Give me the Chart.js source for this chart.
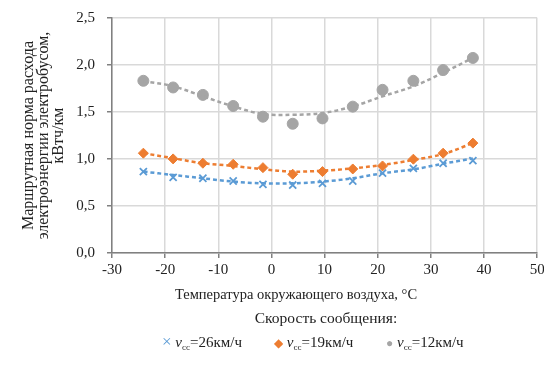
<!DOCTYPE html>
<html><head><meta charset="utf-8">
<script src="https://cdn.jsdelivr.net/npm/chart.js@4/dist/chart.umd.min.js"></script>
<style>
html,body{margin:0;padding:0;background:#fff;}
#wrap{position:relative;width:544px;height:365px;font-family:"Liberation Serif","Times New Roman",serif;color:#222;}
#c{position:absolute;left:0;top:0;}
.lt{position:absolute;font-size:15px;white-space:nowrap;line-height:18px;}
.lt sub{font-size:9px;vertical-align:-3px;}
.ctr{text-align:center;width:300px;}
</style></head>
<body><div id="wrap"><canvas id="c" width="544" height="365"></canvas>
<div class="lt ctr" id="xTitle" style="left:146px;top:285px;font-size:14.5px;"></div>
<div class="lt ctr" id="legTitle" style="left:176px;top:309px;font-size:15.5px;"></div>
<div class="lt" style="left:162px;top:333px;"><span style="color:#5B9BD5;font-size:17px">×</span> <i>v</i><sub>сс</sub>=26км/ч</div>
<div class="lt" style="left:274px;top:333px;"><span style="color:#ED7D31;font-size:12px">◆</span> <i>v</i><sub>сс</sub>=19км/ч</div>
<div class="lt" style="left:386px;top:333px;"><span style="color:#A5A5A5;font-size:12px">●</span> <i>v</i><sub>сс</sub>=12км/ч</div>
</div>
<script>
const temps = [-24.1, -18.5, -12.9, -7.2, -1.6, 4.0, 9.6, 15.3, 20.9, 26.7, 32.3, 37.9];
const v26 = [0.866, 0.805, 0.795, 0.766, 0.73, 0.723, 0.741, 0.766, 0.85, 0.90, 0.955, 0.983];
const v19 = [1.062, 1.001, 0.955, 0.944, 0.908, 0.838, 0.866, 0.894, 0.926, 0.998, 1.062, 1.169];
const v12 = [1.832, 1.761, 1.682, 1.564, 1.45, 1.375, 1.432, 1.557, 1.736, 1.832, 1.946, 2.075];
const trend26 = [0.866, 0.83, 0.795, 0.76, 0.741, 0.741, 0.759, 0.795, 0.848, 0.89, 0.95, 1.005];
const trend19 = [1.062, 1.008, 0.955, 0.926, 0.891, 0.866, 0.876, 0.90, 0.937, 0.99, 1.054, 1.169];
const trend12 = [1.83, 1.773, 1.667, 1.56, 1.479, 1.471, 1.489, 1.56, 1.667, 1.773, 1.917, 2.077];
const seriesNames = ['vсс=26км/ч', 'vсс=19км/ч', 'vсс=12км/ч'];
const xTitle = 'Температура окружающего воздуха, °С';
const yTitle = ['Маршрутная норма расхода', 'электроэнергии электробусом,', 'кВтч/км'];
const legendTitle = 'Скорость сообщения:';

document.getElementById('xTitle').textContent = xTitle;
document.getElementById('legTitle').textContent = legendTitle;

const pts = (ys) => temps.map((x, i) => ({x, y: ys[i]}));
const BLUE = '#5B9BD5', ORANGE = '#ED7D31', GRAY = '#A5A5A5';
const font = {family: '"Liberation Serif", "Times New Roman", serif', size: 15};

const trendDs = (ys, color) => ({
  data: pts(ys), showLine: true, pointRadius: 0, borderColor: color,
  borderWidth: 2.5, borderDash: [4, 3], tension: 0.4, fill: false, order: 0
});
const markDs = (label, ys, color, style, r) => ({
  label, data: pts(ys), showLine: false, pointStyle: style, pointRadius: r,
  pointBackgroundColor: color, pointBorderColor: color, pointBorderWidth: style === 'crossRot' ? 1.8 : 1, order: 1
});

new Chart(document.getElementById('c'), {
  type: 'scatter',
  data: {datasets: [
    markDs(seriesNames[0], v26, BLUE, 'crossRot', 5),
    markDs(seriesNames[1], v19, ORANGE, 'rectRot', 5),
    markDs(seriesNames[2], v12, GRAY, 'circle', 5.5),
    trendDs(trend26, BLUE), trendDs(trend19, ORANGE), trendDs(trend12, GRAY)
  ]},
  options: {
    responsive: false, animation: false,
    layout: {padding: {top: 18, right: 6, bottom: 0, left: 0}},
    plugins: {legend: {display: false}, tooltip: {enabled: false}},
    scales: {
      x: {
        type: 'linear', min: -30, max: 50,
        ticks: {stepSize: 10, color: '#222', font, padding: 3},
        grid: {color: '#d9d9d9', lineWidth: 1.5, tickColor: '#808080', tickLength: 5},
        border: {color: '#808080', width: 1.5},
        afterFit: (s) => { s.height = 112; s.paddingRight = 0; s.paddingLeft = 0; }
      },
      y: {
        min: 0, max: 2.5,
        ticks: {stepSize: 0.5, color: '#222', font, padding: 12,
          callback: (v) => v.toFixed(1).replace('.', ',')},
        grid: {color: '#d9d9d9', lineWidth: 1.5, tickColor: '#808080', tickLength: 5},
        border: {color: '#808080', width: 1.5},
        title: {display: true, text: yTitle, color: '#222',
          font: {family: font.family, size: 16, lineHeight: 0.95}, padding: {top: 21, bottom: 0}},
        afterFit: (s) => { s.width = 112; s.paddingTop = 0; s.paddingBottom = 0; }
      }
    }
  }
});
</script></body></html>
